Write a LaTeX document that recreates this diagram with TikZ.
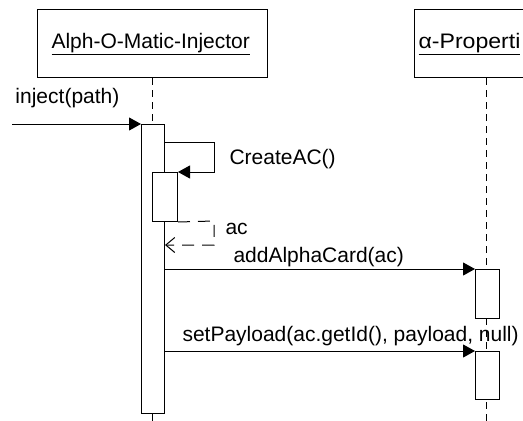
\documentclass[tikz,border=0pt]{standalone}
\usepackage{fontspec}
\setmainfont{Liberation Sans}
\usetikzlibrary{arrows.meta,calc}
\begin{document}
\begin{tikzpicture}[x=1pt,y=-1pt,line width=1pt,
  objbox/.style={draw,fill=white,minimum height=68pt,inner sep=0pt,anchor=north west},
  lifeline/.style={dash pattern=on 7pt off 5pt},
  actbar/.style={draw,fill=white,minimum width=23pt,inner sep=0pt,anchor=north west},
  callmsg/.style={-{Triangle[length=12pt,width=13pt]}},
  retmsg/.style={dash pattern=on 12pt off 8pt,-{Straight Barb[length=9pt,width=15pt]}},
  lbl/.style={font=\fontsize{21}{24}\selectfont,inner sep=0pt,anchor=base west}]
\useasboundingbox (0,0) rectangle (523,421);
\clip (0,0) rectangle (523,421);
% objects
\node[objbox,minimum width=230pt] (inj) at (37,9) {};
\node[objbox,minimum width=200pt] (prop) at (414,9) {};
\node[lbl] (injname) at (51,48) {\underline{Alph-O-Matic-Injector}};
\node[lbl,xscale=1.1] (propname) at (418,48) {\underline{α-Properti}};
% lifelines
\coordinate (ll1end) at (152,421);
\coordinate (ll2end) at (486,421);
\draw[lifeline] (inj.south -| ll1end) -- (ll1end);
\draw[lifeline] (prop.south -| ll2end) -- (ll2end);
% activation bars
\node[actbar,minimum height=289pt] (bar1) at (141,124) {};
\node[actbar,minimum width=25pt,minimum height=49pt] (bar1b) at (152,172) {};
\node[actbar,minimum width=24pt,minimum height=49pt] (bar2a) at (475,269) {};
\node[actbar,minimum width=24pt,minimum height=48pt] (bar2b) at (475,351) {};
% messages
\coordinate (injsrc) at (12,124);
\draw[callmsg] (injsrc) -- (bar1.north west);
\node[lbl] (injlbl) at (15,103) {inject(path)};
\draw[callmsg] ($(bar1.north east)+(0,18)$) -- (214,142) -- (214,172) -- (bar1b.north east);
\node[lbl] (createlbl) at (229,164) {CreateAC()};
\draw[retmsg] (bar1b.south east) -- (214,221) -- (214,245) -- ($(bar1.north east)+(0,121)$);
\node[lbl] (aclbl) at (225,234) {ac};
\draw[callmsg] ($(bar1.north east)+(0,145)$) -- (bar2a.north west);
\node[lbl] (addlbl) at (233,262) {addAlphaCard(ac)};
\draw[callmsg] ($(bar1.north east)+(0,227)$) -- (bar2b.north west);
\node[lbl] (setlbl) at (182,341) {setPayload(ac.getId(), payload, null)};
\end{tikzpicture}
\end{document}
